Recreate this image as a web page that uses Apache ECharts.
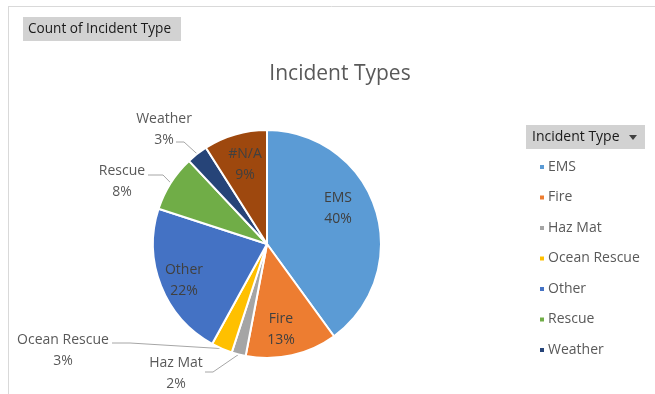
<!DOCTYPE html>
<html><head><meta charset="utf-8">
<script src="https://cdn.jsdelivr.net/npm/echarts@6/dist/echarts.min.js"></script>
<style>html,body{margin:0;padding:0;background:#fff}#c{width:655px;height:394px}</style>
</head><body><div id="c"></div>
<script>
const categories = ['EMS','Fire','Haz Mat','Ocean Rescue','Other','Rescue','Weather','#N/A'];
const values = [40,13,2,3,22,8,3,9];
const colors = ['#5B9BD5','#ED7D31','#A5A5A5','#FFC000','#4472C4','#70AD47','#264478','#9E480E'];
const insideLabels = ['EMS','Fire','Other','#N/A'];
const legendItems = ['EMS','Fire','Haz Mat','Ocean Rescue','Other','Rescue','Weather'];
const FONT = '"Open Sans", sans-serif';

// label placement (layout only)
const labelPos = {
  'EMS':[338,209], 'Fire':[281,330], 'Other':[184,281], '#N/A':[245,165],
  'Weather':[164,130], 'Rescue':[122,182], 'Ocean Rescue':[63,351], 'Haz Mat':[176,374]
};
const leaderBend = {
  'Weather':[[176,142],[184,142]],
  'Rescue':[[148,175],[163,175]],
  'Ocean Rescue':[[112,343],[130,343]],
  'Haz Mat':[[205,372],[213,372]]
};

const chart = echarts.init(document.getElementById('c'), null, {renderer:'canvas'});
const data = categories.map((n,i)=>{
  const inside = insideLabels.includes(n);
  return {
    name:n, value:values[i], itemStyle:{color:colors[i]},
    label: inside ? {position:'inner', color:'#404040'} : {position:'outside', color:'#595959'},
    labelLine: {show: !inside}
  };
});
chart.setOption({
  animation:false,
  title:{text:'Incident Types', left:335, top:59, textAlign:'center',
    textStyle:{fontFamily:FONT, fontSize:21, fontWeight:'normal', color:'#595959'}},
  legend:{
    data: legendItems, orient:'vertical', left:533, top:155, itemGap:16.5,
    itemWidth:6, itemHeight:6, icon:'rect',
    textStyle:{fontFamily:FONT, fontSize:14, lineHeight:14, color:'#595959', padding:[0,0,0,-2]}
  },
  graphic:[
    {type:'line', shape:{x1:8,y1:6.5,x2:655,y2:6.5}, style:{stroke:'#d9d9d9', lineWidth:1}},
    {type:'line', shape:{x1:8.5,y1:6,x2:8.5,y2:394}, style:{stroke:'#d9d9d9', lineWidth:1}},
    {type:'rect', shape:{x:23,y:17,width:158,height:24}, style:{fill:'#d2d2d2'}},
    {type:'text', x:28, y:29.5, style:{text:'Count of Incident Type', font:'13.6px '+FONT, fill:'#1a1a1a', verticalAlign:'middle'}},
    {type:'rect', shape:{x:526,y:125,width:119,height:24}, style:{fill:'#d2d2d2'}},
    {type:'text', x:532, y:137.5, style:{text:'Incident Type', font:'14px '+FONT, fill:'#1a1a1a', verticalAlign:'middle'}},
    {type:'polygon', shape:{points:[[629,135],[637,135],[633,140]]}, style:{fill:'#404040'}}
  ],
  series:[{
    type:'pie', center:[267,244], radius:114, startAngle:90, clockwise:true,
    avoidLabelOverlap:false,
    itemStyle:{borderColor:'#fff', borderWidth:2},
    label:{fontFamily:FONT, fontSize:14, lineHeight:21, align:'center',
      formatter:p=>p.name+'\n'+Math.round(p.percent)+'%'},
    labelLine:{length:12, length2:15, lineStyle:{color:'#a6a6a6', width:1}},
    labelLayout:function(params){
      const name = categories[params.dataIndex];
      const pos = labelPos[name];
      const out = {x:pos[0], y:pos[1], align:'center', verticalAlign:'middle', hideOverlap:false, moveOverlap:false};
      if (leaderBend[name] && params.labelLinePoints) {
        const start = params.labelLinePoints[0];
        const b = leaderBend[name];
        out.labelLinePoints = [start, b[1], b[0]];
      }
      return out;
    },
    data
  }]
});
</script></body></html>
